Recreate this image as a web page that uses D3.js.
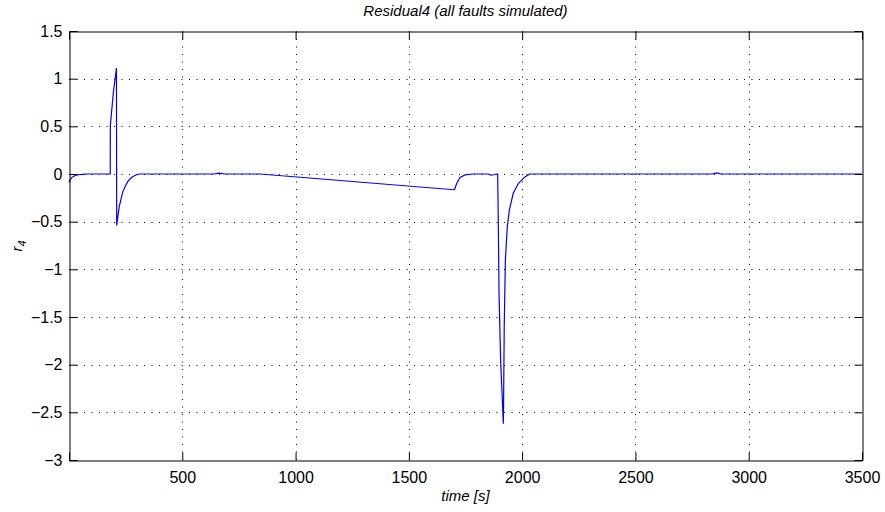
<!DOCTYPE html>
<html>
<head>
<meta charset="utf-8">
<script src="https://cdn.jsdelivr.net/npm/d3@7"></script>
<style>
  body { margin: 0; background: #fff; }
  svg { display: block; font-family: "Liberation Sans", Arial, sans-serif; }
</style>
</head>
<body>
<svg id="chart"></svg>
<script>
// residual r4
var timeSec = [0, 5, 13, 25, 40, 60, 80, 182, 182.5, 196, 209.5, 210.5, 216, 222, 230, 237, 248, 259, 270, 281, 295, 310,
  640, 660, 690, 843, 1699, 1702, 1711, 1726, 1748, 1783, 1850, 1862, 1875, 1888, 1892, 1895, 1898, 1905, 1917,
  1918.5, 1921, 1926, 1934.6, 1943.4, 1961, 1983, 2012, 2034, 2840, 2858, 2880, 3500];
var residual = [-0.09, -0.06, -0.035, -0.018, -0.008, -0.003, 0, 0, 0.51, 0.86, 1.11, -0.54, -0.44, -0.34, -0.26, -0.19, -0.13, -0.08, -0.05, -0.03, -0.01, 0,
  0, 0.01, 0, 0, -0.165, -0.16, -0.10, -0.035, -0.01, 0, 0, -0.012, -0.008, 0, 0, -0.55, -1.25, -1.95, -2.62,
  -2.30, -1.60, -0.90, -0.55, -0.38, -0.20, -0.10, -0.03, 0, 0, 0.012, 0, 0];

var xTicks = [500, 1000, 1500, 2000, 2500, 3000, 3500];
var yTicks = [-3, -2.5, -2, -1.5, -1, -0.5, 0, 0.5, 1, 1.5];

var titleText = "Residual4 (all faults simulated)";
var xLabel = "time [s]";

var width = 885, height = 512;
var axLeft = 69, axRight = 862, axTop = 31, axBottom = 460;

var svg = d3.select("#chart")
    .attr("width", width)
    .attr("height", height);

var x = d3.scaleLinear().domain([0, 3500]).range([axLeft, axRight]);
var y = d3.scaleLinear().domain([-3, 1.5]).range([axBottom, axTop]);

var fmt = function(d) { return String(d).replace("-", "\u2212"); };

// grid
var grid = svg.append("g").attr("class", "grid")
    .attr("stroke", "#000").attr("stroke-width", 1).attr("stroke-dasharray", "1,6.5");
grid.selectAll("line.gx").data(xTicks.filter(function(d) { return d < 3500; }))
  .enter().append("line")
    .attr("x1", function(d) { return Math.round(x(d)) + 0.5; })
    .attr("x2", function(d) { return Math.round(x(d)) + 0.5; })
    .attr("y1", axBottom).attr("y2", axTop);
grid.selectAll("line.gy").data(yTicks.filter(function(d) { return d > -3 && d < 1.5; }))
  .enter().append("line")
    .attr("y1", function(d) { return Math.round(y(d)) + 0.5; })
    .attr("y2", function(d) { return Math.round(y(d)) + 0.5; })
    .attr("x1", axLeft).attr("x2", axRight);

// data line
var line = d3.line()
    .x(function(d, i) { return x(timeSec[i]); })
    .y(function(d) { return y(d); });

svg.append("path")
    .datum(residual)
    .attr("d", line)
    .attr("fill", "none")
    .attr("stroke", "#0000ff")
    .attr("stroke-width", 1.2);

// axes, MATLAB style with ticks inside
var tickLen = -8;
svg.append("g")
    .attr("transform", "translate(0," + (axBottom + 0.5) + ")")
    .call(d3.axisBottom(x).tickValues(xTicks).tickSize(tickLen).tickPadding(11).tickFormat(fmt));
svg.append("g")
    .attr("transform", "translate(0," + (axTop + 0.5) + ")")
    .call(d3.axisTop(x).tickValues(xTicks).tickSize(tickLen).tickFormat(""));
svg.append("g")
    .attr("transform", "translate(" + (axLeft + 0.5) + ",0)")
    .call(d3.axisLeft(y).tickValues(yTicks).tickSize(tickLen).tickPadding(7).tickFormat(fmt));
svg.append("g")
    .attr("transform", "translate(" + (axRight + 0.5) + ",0)")
    .call(d3.axisRight(y).tickValues(yTicks).tickSize(tickLen).tickFormat(""));

svg.selectAll(".domain").attr("stroke", "#000").attr("stroke-width", 1);
svg.selectAll(".tick line").attr("stroke", "#000");
svg.selectAll(".tick text")
    .attr("font-size", "16px")
    .attr("font-family", "Liberation Sans, Arial, sans-serif")
    .attr("fill", "#000");

// title and labels
svg.append("text")
    .attr("x", (axLeft + axRight) / 2).attr("y", 16)
    .attr("text-anchor", "middle")
    .attr("font-size", "15px").attr("font-style", "italic")
    .text(titleText);

svg.append("text")
    .attr("x", (axLeft + axRight) / 2).attr("y", 501)
    .attr("text-anchor", "middle")
    .attr("font-size", "15px").attr("font-style", "italic")
    .text(xLabel);

var yl = svg.append("text")
    .attr("transform", "translate(22,246) rotate(-90)")
    .attr("text-anchor", "middle")
    .attr("font-size", "15px").attr("font-style", "italic");
yl.append("tspan").text("r");
yl.append("tspan").attr("dy", 4).attr("font-size", "11px").text("4");
</script>
</body>
</html>
